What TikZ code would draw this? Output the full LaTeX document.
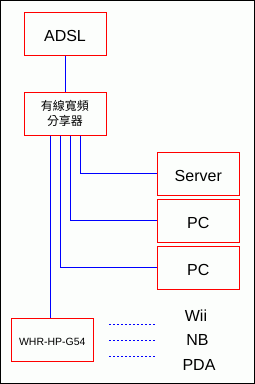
\documentclass[tikz,border=0pt]{standalone}
\usepackage{fontspec}
\setmainfont{Liberation Sans}
\newfontfamily\cjk{Noto Sans CJK TC}
\usepackage{tikz}
\usetikzlibrary{positioning,calc}

\definecolor{bgpaper}{RGB}{252,254,252}
\definecolor{boxred}{RGB}{255,0,0}
\definecolor{wireblue}{RGB}{0,0,255}

\tikzset{
  basebox/.style={draw=boxred,line width=1pt,minimum width=82pt,minimum height=43pt,inner sep=0pt},
  devbox/.style={basebox,font=\fontsize{16}{19}\selectfont,text height=15.5pt,text depth=0pt},
  wire/.style={draw=wireblue,line width=1pt},
  airlink/.style={draw=wireblue,line width=1pt,dash pattern=on 2pt off 2pt},
  devlabel/.style={font=\fontsize{16}{19}\selectfont,inner sep=0pt}
}

\begin{document}
\begin{tikzpicture}[x=1pt,y=-1pt]
\useasboundingbox (0,0) rectangle (255,384);
\fill[bgpaper] (0,0) rectangle (255,384);
\draw[line width=1pt] (0.5,0.5) rectangle (254.5,383.5);

% boxes
\node[devbox] (adsl) at (65,33.7) {ADSL};
\node[basebox,align=center,font=\cjk\fontsize{12}{15}\selectfont] (split) at (65,113.7) {有線寬頻\\分享器};
\node[devbox] (server) at (198.3,173.7) {Server};
\node[devbox] (pc1) at (198.3,220.8) {PC};
\node[devbox] (pc2) at (198.3,267.8) {PC};
\node[devbox,font=\fontsize{10.5}{12}\selectfont,text height=11.5pt] (whr) at (52.3,339.7) {WHR-HP-G54};

% wireless devices
\node[devlabel] (wii) at (196,316) {Wii};
\node[devlabel] (nb) at (197.5,340) {NB};
\node[devlabel] (pda) at (199,365) {PDA};

% ports on the splitter
\coordinate (t1) at ([xshift=-15pt]split.south);
\coordinate (t2) at ([xshift=-5pt]split.south);
\coordinate (t3) at ([xshift=5pt]split.south);
\coordinate (t4) at ([xshift=15pt]split.south);

\draw[wire] (adsl) -- (split);
\draw[wire] (t4) |- (server.west);
\draw[wire] (t3) |- (pc1.west);
\draw[wire] (t2) |- (pc2.west);
\draw[wire] (t1) -- (t1 |- whr.north);

% radio links
\foreach \y/\n in {324/a,340/b,356/c} {
  \coordinate (r\n) at (109,\y);
  \coordinate (s\n) at (155,\y);
  \draw[airlink] (r\n) -- (s\n);
}
\end{tikzpicture}
\end{document}
